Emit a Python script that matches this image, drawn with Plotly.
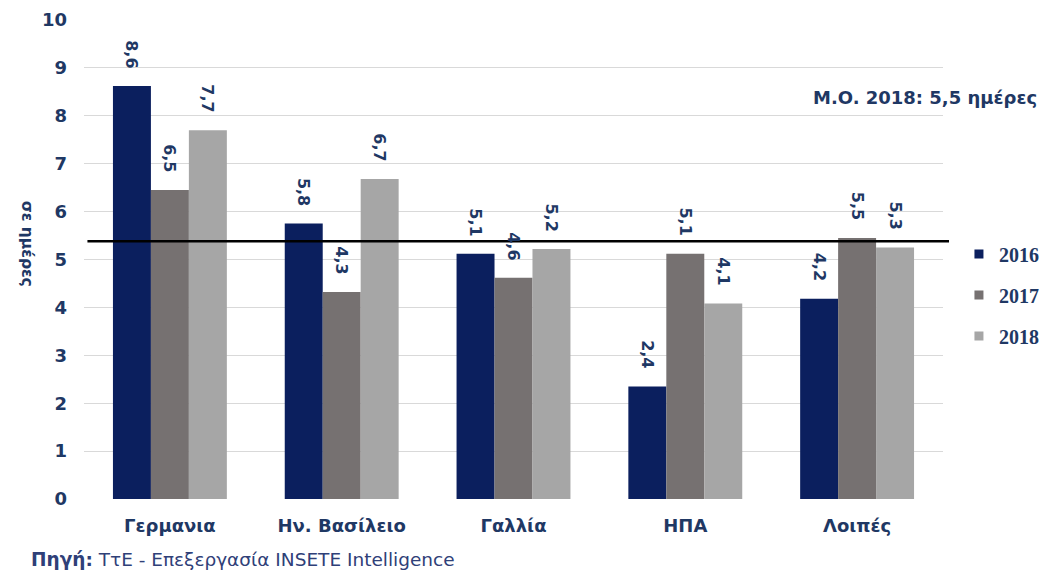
import plotly.graph_objects as go

categories = ["Γερμανια", "Ην. Βασίλειο", "Γαλλία", "ΗΠΑ", "Λοιπές"]
years = ["2016", "2017", "2018"]
values_2016 = [8.6, 5.8, 5.1, 2.4, 4.2]
values_2017 = [6.5, 4.3, 4.6, 5.1, 5.5]
values_2018 = [7.7, 6.7, 5.2, 4.1, 5.3]
bar_heights_2016 = [8.62, 5.75, 5.12, 2.35, 4.18]
bar_heights_2017 = [6.45, 4.32, 4.62, 5.12, 5.45]
bar_heights_2018 = [7.7, 6.68, 5.22, 4.08, 5.25]
mean_line_value = 5.38
mean_text = "M.O. 2018: 5,5 ημέρες"
y_ticks = list(range(0, 11))

colors = ["#0b1f5e", "#767171", "#a6a6a6"]
navy = "#1f3864"

fig = go.Figure()
series = [(values_2016, bar_heights_2016), (values_2017, bar_heights_2017), (values_2018, bar_heights_2018)]
for i, (yr, (vals, hts)) in enumerate(zip(years, series)):
    fig.add_trace(go.Bar(
        x=categories, y=hts, name=yr, marker=dict(color=colors[i], line=dict(width=0)),
        legendgroup=yr, showlegend=False,
    ))
    # legend entry with a small square symbol
    fig.add_trace(go.Scatter(
        x=[None], y=[None], mode="markers", name=yr, legendgroup=yr,
        marker=dict(symbol="square", size=9, color=colors[i]), showlegend=True,
    ))

bar_w = 38
for i, (vals, hts) in enumerate(series):
    for c, v, h in zip(categories, vals, hts):
        fig.add_annotation(
            x=c, y=h, xref="x", yref="y", text=f"{v:.1f}".replace(".", ","),
            textangle=90, showarrow=False, xanchor="center", yanchor="bottom",
            xshift=(i - 1) * bar_w, yshift=16,
            font=dict(family="DejaVu Sans", size=16, color=navy, weight="bold"),
        )

fig.add_shape(type="line", xref="paper", yref="y", x0=0.004, x1=1.007,
              y0=mean_line_value, y1=mean_line_value, line=dict(color="black", width=2.5))

fig.add_annotation(xref="paper", yref="paper", x=1.112, y=0.839, text=mean_text,
                   showarrow=False, xanchor="right", yanchor="middle",
                   font=dict(family="DejaVu Sans", size=18, color=navy, weight="bold"))

fig.add_annotation(xref="paper", yref="paper", x=-0.067, y=0.532, text="σε ημέρες",
                   textangle=90, showarrow=False, xanchor="center", yanchor="middle",
                   font=dict(family="DejaVu Sans", size=15.5, color=navy, weight="bold"))

fig.add_annotation(xref="paper", yref="paper", x=-0.064, y=-0.127,
                   text="<b>Πηγή:</b> ΤτΕ - Επεξεργασία INSETE Intelligence",
                   showarrow=False, xanchor="left", yanchor="middle",
                   font=dict(family="DejaVu Sans", size=18.5, color="#2f4078"))

fig.update_layout(
    width=1045, height=565,
    margin=dict(l=76, r=110, t=12, b=74, autoexpand=False),
    paper_bgcolor="white", plot_bgcolor="white",
    barmode="group", bargap=0.337, bargroupgap=0,
    showlegend=True,
    legend=dict(x=0.910, y=0.492, xref="container", yref="container",
                xanchor="left", yanchor="middle",
                font=dict(family="Liberation Serif", size=20, color=navy, weight="bold"),
                tracegroupgap=12, itemwidth=30, bgcolor="rgba(0,0,0,0)"),
    xaxis=dict(tickfont=dict(family="DejaVu Sans", size=18, color=navy, weight="bold"),
               showgrid=False, showline=False, ticks="", ticklabelstandoff=14,
               automargin=False),
    yaxis=dict(range=[0, 10], tickvals=y_ticks, showgrid=True, gridcolor="#d9d9d9", gridwidth=1,
               zeroline=False, showline=False,
               tickfont=dict(family="DejaVu Sans", size=18, color=navy, weight="bold"),
               ticklabelstandoff=16, automargin=False),
)

fig.write_html("out.html")
